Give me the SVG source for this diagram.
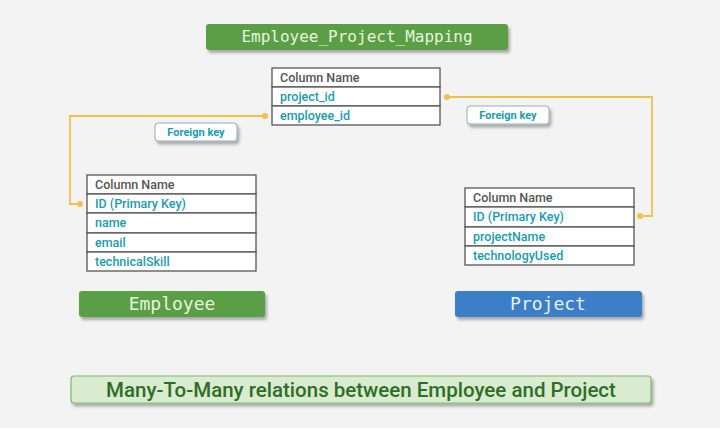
<svg xmlns="http://www.w3.org/2000/svg" width="720" height="428" viewBox="0 0 720 428">
<defs>
<style>
.tb{fill:#fff;stroke:#555;stroke-width:1.3}
.hd{font-family:Roboto,"Liberation Sans",sans-serif;font-size:12.5px;font-weight:500;fill:#555}
.fd{font-family:Roboto,"Liberation Sans",sans-serif;font-size:12.5px;font-weight:500;fill:#1a9bb0}
.mono{font-family:"DejaVu Sans Mono","Liberation Mono",monospace;font-size:16px;fill:#e6f5dd;text-anchor:middle}
.fk{fill:#fff;stroke:#9ab;stroke-width:1;filter:url(#sh)}
.fkt{font-family:Roboto,"Liberation Sans",sans-serif;font-size:11px;font-weight:bold;fill:#1a9bb0;text-anchor:middle}
.cn{fill:none;stroke:#f0c24a;stroke-width:1.8}
.dot{fill:#f0c24a}
</style>
<filter id="sh" x="-10%" y="-10%" width="130%" height="150%"><feDropShadow dx="2" dy="3" stdDeviation="1.5" flood-color="#000" flood-opacity="0.3"/></filter>
</defs>
<rect width="720" height="428" fill="#f3f3f3"/>
<g id="title"><rect x="206" y="24" width="302" height="26" rx="3" fill="#5a9e45" filter="url(#sh)"/><text x="357" y="42" class="mono">Employee_Project_Mapping</text></g>
<g id="connectors">
<polyline class="cn" points="265,116 70,116 70,204 80,204"/>
<circle class="dot" cx="265" cy="116" r="3"/><circle class="dot" cx="80" cy="204" r="3"/>
<polyline class="cn" points="447,97 652,97 652,216 640,216"/>
<circle class="dot" cx="447" cy="97" r="3"/><circle class="dot" cx="640" cy="216" r="3"/>
</g>
<g id="mapping">
<rect class="tb" x="272" y="68" width="168" height="19"/><rect class="tb" x="272" y="87" width="168" height="19"/><rect class="tb" x="272" y="106" width="168" height="19"/>
<text class="hd" x="280" y="82">Column Name</text><text class="fd" x="280" y="101">project_id</text><text class="fd" x="280" y="120">employee_id</text>
</g>
<g id="fk1"><rect class="fk" x="155" y="123" width="82" height="18" rx="3"/><text class="fkt" x="196" y="136">Foreign key</text></g>
<g id="fk2"><rect class="fk" x="467" y="106" width="82" height="18" rx="3"/><text class="fkt" x="508" y="119">Foreign key</text></g>
<g id="employee-table">
<rect class="tb" x="87" y="175" width="169" height="19"/><rect class="tb" x="87" y="194" width="169" height="19"/><rect class="tb" x="87" y="213" width="169" height="20"/><rect class="tb" x="87" y="233" width="169" height="19"/><rect class="tb" x="87" y="252" width="169" height="19"/>
<text class="hd" x="95" y="189">Column Name</text><text class="fd" x="95" y="208">ID (Primary Key)</text><text class="fd" x="95" y="227">name</text><text class="fd" x="95" y="247">email</text><text class="fd" x="95" y="266">technicalSkill</text>
</g>
<g id="project-table">
<rect class="tb" x="465" y="188" width="169" height="19"/><rect class="tb" x="465" y="207" width="169" height="20"/><rect class="tb" x="465" y="227" width="169" height="19"/><rect class="tb" x="465" y="246" width="169" height="19"/>
<text class="hd" x="473" y="202">Column Name</text><text class="fd" x="473" y="221">ID (Primary Key)</text><text class="fd" x="473" y="241">projectName</text><text class="fd" x="473" y="260">technologyUsed</text>
</g>
<g id="employee"><rect x="79" y="291" width="186" height="26" rx="3" fill="#5a9e45" filter="url(#sh)"/><text x="172" y="310" class="mono" style="font-size:18px">Employee</text></g>
<g id="project"><rect x="455" y="291" width="187" height="26" rx="3" fill="#3a7fc8" filter="url(#sh)"/><text x="548" y="310" class="mono" style="font-size:18px;fill:#e8f0fa">Project</text></g>
<g id="banner"><rect x="71" y="376" width="580" height="27" rx="3" fill="#d9ecd0" stroke="#7fb96a" stroke-width="1.2" filter="url(#sh)"/><text x="361" y="397" text-anchor="middle" font-family="Roboto,'Liberation Sans',sans-serif" font-size="20.5" font-weight="500" fill="#2f6e25">Many-To-Many relations between Employee and Project</text></g>
</svg>
